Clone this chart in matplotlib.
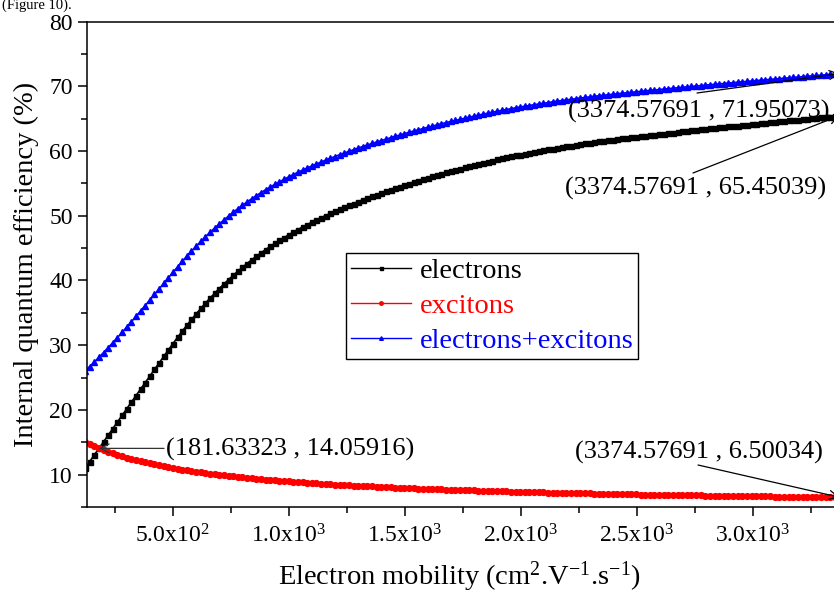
import numpy as np
import matplotlib
matplotlib.use("Agg")
import matplotlib.pyplot as plt
from matplotlib.ticker import MultipleLocator, FixedLocator, FixedFormatter

plt.rcParams['font.family'] = ['Liberation Serif', 'DejaVu Serif']
plt.rcParams['mathtext.fontset'] = 'custom'
plt.rcParams['mathtext.rm'] = 'Liberation Serif'
plt.rcParams['mathtext.it'] = 'Liberation Serif:italic'

# Electron mobility grid (cm^2 V^-1 s^-1): uniform sampling, 164 points
x_cross = 181.63323
x_last = 3374.57691
step = (x_last - x_cross) / 160
mobility = x_cross + step * np.arange(-3, 161)

# Internal quantum efficiency (%)
electrons = [
    11.00, 12.02, 13.04, 14.05, 15.07, 16.09, 17.11, 18.12, 19.14, 20.16,
    21.18, 22.20, 23.21, 24.23, 25.25, 26.26, 27.27, 28.27, 29.26, 30.24,
    31.21, 32.16, 33.08, 33.97, 34.84, 35.67, 36.48, 37.27, 38.02, 38.75,
    39.45, 40.13, 40.79, 41.42, 42.03, 42.61, 43.18, 43.73, 44.25, 44.76,
    45.25, 45.72, 46.17, 46.62, 47.05, 47.46, 47.86, 48.25, 48.62, 48.99,
    49.34, 49.69, 50.03, 50.35, 50.67, 50.99, 51.29, 51.59, 51.88, 52.17,
    52.45, 52.73, 52.99, 53.25, 53.50, 53.76, 54.01, 54.26, 54.49, 54.73,
    54.97, 55.20, 55.42, 55.64, 55.86, 56.07, 56.28, 56.49, 56.69, 56.89,
    57.09, 57.28, 57.46, 57.65, 57.83, 58.01, 58.18, 58.36, 58.52, 58.69,
    58.85, 59.00, 59.15, 59.30, 59.45, 59.59, 59.72, 59.86, 59.99, 60.13,
    60.25, 60.37, 60.49, 60.61, 60.72, 60.84, 60.95, 61.06, 61.16, 61.26,
    61.37, 61.47, 61.56, 61.66, 61.74, 61.84, 61.93, 62.01, 62.10, 62.18,
    62.28, 62.36, 62.44, 62.53, 62.61, 62.69, 62.78, 62.85, 62.93, 63.01,
    63.09, 63.17, 63.25, 63.32, 63.40, 63.48, 63.55, 63.63, 63.70, 63.78,
    63.85, 63.93, 64.00, 64.08, 64.15, 64.21, 64.28, 64.36, 64.42, 64.50,
    64.57, 64.64, 64.71, 64.78, 64.84, 64.92, 64.99, 65.05, 65.12, 65.18,
    65.25, 65.32, 65.38, 65.45039,
]

excitons = [
    15.01, 14.68, 14.36, 14.05916, 13.79, 13.53, 13.28, 13.05, 12.83, 12.62,
    12.42, 12.24, 12.06, 11.89, 11.73, 11.57, 11.43, 11.29, 11.15, 11.02,
    10.90, 10.78, 10.67, 10.56, 10.45, 10.35, 10.25, 10.16, 10.07, 9.98,
    9.89, 9.81, 9.73, 9.66, 9.58, 9.51, 9.44, 9.37, 9.31, 9.24,
    9.18, 9.12, 9.06, 9.01, 8.95, 8.90, 8.85, 8.79, 8.75, 8.70,
    8.65, 8.60, 8.56, 8.52, 8.47, 8.43, 8.39, 8.35, 8.31, 8.28,
    8.24, 8.20, 8.17, 8.13, 8.10, 8.07, 8.03, 8.00, 7.97, 7.94,
    7.91, 7.88, 7.85, 7.83, 7.80, 7.77, 7.74, 7.72, 7.69, 7.67,
    7.64, 7.62, 7.60, 7.57, 7.55, 7.53, 7.51, 7.48, 7.46, 7.44,
    7.42, 7.40, 7.38, 7.36, 7.34, 7.32, 7.30, 7.29, 7.27, 7.25,
    7.23, 7.22, 7.20, 7.18, 7.17, 7.15, 7.13, 7.12, 7.10, 7.09,
    7.07, 7.06, 7.04, 7.03, 7.01, 7.00, 6.99, 6.97, 6.96, 6.95,
    6.93, 6.92, 6.91, 6.89, 6.88, 6.87, 6.86, 6.85, 6.83, 6.82,
    6.81, 6.80, 6.79, 6.78, 6.77, 6.76, 6.75, 6.73, 6.72, 6.71,
    6.70, 6.69, 6.68, 6.67, 6.66, 6.65, 6.65, 6.64, 6.63, 6.62,
    6.61, 6.60, 6.59, 6.58, 6.57, 6.56, 6.56, 6.55, 6.54, 6.53,
    6.52, 6.52, 6.51, 6.50034,
]

total = [
    26.01, 26.70, 27.40, 28.11, 28.86, 29.62, 30.39, 31.17, 31.97, 32.78,
    33.60, 34.44, 35.27, 36.12, 36.98, 37.83, 38.70, 39.56, 40.41, 41.26,
    42.11, 42.94, 43.75, 44.53, 45.29, 46.02, 46.73, 47.43, 48.09, 48.73,
    49.34, 49.94, 50.52, 51.08, 51.61, 52.12, 52.62, 53.10, 53.56, 54.00,
    54.43, 54.84, 55.23, 55.63, 56.00, 56.36, 56.71, 57.04, 57.37, 57.69,
    57.99, 58.29, 58.59, 58.87, 59.14, 59.42, 59.68, 59.94, 60.19, 60.45,
    60.69, 60.93, 61.16, 61.38, 61.60, 61.83, 62.04, 62.26, 62.46, 62.67,
    62.88, 63.08, 63.27, 63.47, 63.66, 63.84, 64.02, 64.21, 64.38, 64.56,
    64.73, 64.90, 65.06, 65.22, 65.38, 65.54, 65.69, 65.84, 65.98, 66.13,
    66.27, 66.40, 66.53, 66.66, 66.79, 66.91, 67.02, 67.15, 67.26, 67.38,
    67.48, 67.59, 67.69, 67.79, 67.89, 67.99, 68.08, 68.18, 68.26, 68.35,
    68.44, 68.53, 68.60, 68.69, 68.75, 68.84, 68.92, 68.98, 69.06, 69.13,
    69.21, 69.28, 69.35, 69.42, 69.49, 69.56, 69.64, 69.70, 69.76, 69.83,
    69.90, 69.97, 70.04, 70.10, 70.17, 70.24, 70.30, 70.36, 70.42, 70.49,
    70.55, 70.62, 70.68, 70.75, 70.81, 70.86, 70.93, 71.00, 71.05, 71.12,
    71.18, 71.24, 71.30, 71.36, 71.41, 71.48, 71.55, 71.60, 71.66, 71.71,
    71.77, 71.84, 71.89, 71.95073,
]

x_ticks = [500, 1000, 1500, 2000, 2500, 3000]
x_tick_labels = ['5.0x10$^2$', '1.0x10$^3$', '1.5x10$^3$',
                 '2.0x10$^3$', '2.5x10$^3$', '3.0x10$^3$']
y_ticks = [10, 20, 30, 40, 50, 60, 70, 80]

W, H = 834, 596
fig = plt.figure(figsize=(W / 100, H / 100), dpi=100)
# the axes runs slightly past the right edge of the page
ax = fig.add_axes([86.7 / W, (H - 507) / H, 763.4 / W, (507 - 21.5) / H])

ax.plot(mobility, electrons, color='black', marker='s', ms=3.6, lw=1.2,
        label='electrons')
ax.plot(mobility, excitons, color='red', marker='o', ms=4.2, lw=1.2,
        label='excitons')
ax.plot(mobility, total, color='blue', marker='^', ms=4.4, lw=1.2,
        label='electrons+excitons')

ax.set_xlim(129, 3420)
ax.set_ylim(5, 80)
ax.xaxis.set_major_locator(FixedLocator(x_ticks))
ax.xaxis.set_major_formatter(FixedFormatter(x_tick_labels))
ax.xaxis.set_minor_locator(MultipleLocator(250))
ax.yaxis.set_major_locator(FixedLocator(y_ticks))
ax.yaxis.set_minor_locator(MultipleLocator(5))
ax.tick_params(which='both', direction='out', width=1.1, top=False, right=False)
ax.tick_params(which='major', length=6.5, labelsize=17)
ax.tick_params(which='minor', length=4)
ax.tick_params(axis='x', which='major', pad=6)
ax.tick_params(axis='y', which='major', pad=3.5)
for sp in ax.spines.values():
    sp.set_linewidth(1.1)

fig.text(459 / W, (H - 585) / H,
         'Electron mobility (cm$^{2}$.V$^{-1}$.s$^{-1}$)',
         ha='center', va='baseline', fontsize=20.5)
fig.text(26 / W, 1 - 264 / H, 'Internal quantum efficiency (%)',
         rotation=90, ha='center', va='center', fontsize=20.5)
fig.text(0.002, (H - 9) / H, '(Figure 10).', ha='left', va='baseline',
         fontsize=10.5)

leg = ax.legend(loc='upper left', bbox_to_anchor=(346 / W, 1 - 253 / H),
                bbox_transform=fig.transFigure, borderaxespad=0,
                fontsize=20.5, frameon=True, fancybox=False, framealpha=1,
                edgecolor='black', labelcolor='linecolor', handlelength=2.1,
                handletextpad=0.3, labelspacing=0.32, borderpad=0.18,
                markerscale=0.6)
leg.get_frame().set_linewidth(1.0)
for h in leg.get_lines():
    h.set_linewidth(1.0)

arrow = dict(arrowstyle='->', lw=0.9, color='black', shrinkA=0, shrinkB=0,
             mutation_scale=16)

def note(i, series, text_xy, anchor, arrow_from, color='black'):
    label = f'({mobility[i]:.5f} , {series[i]:.5f})'
    fig.text(text_xy[0] / W, 1 - text_xy[1] / H, label, fontsize=19,
             ha=anchor[0], va=anchor[1])
    props = dict(arrow, color=color)
    ax.annotate('', xy=(mobility[i], series[i]), xycoords='data',
                xytext=(arrow_from[0], H - arrow_from[1]),
                textcoords='figure pixels', arrowprops=props,
                annotation_clip=False)

note(3, excitons, (166, 449), ('left', 'center'), (164, 448.4), '#333333')
note(-1, excitons, (575, 452), ('left', 'center'), (698, 465))
note(-1, electrons, (565, 188), ('left', 'center'), (693, 173))
note(-1, total, (568, 111), ('left', 'center'), (697, 93))

fig.savefig('out.png', dpi=100)
